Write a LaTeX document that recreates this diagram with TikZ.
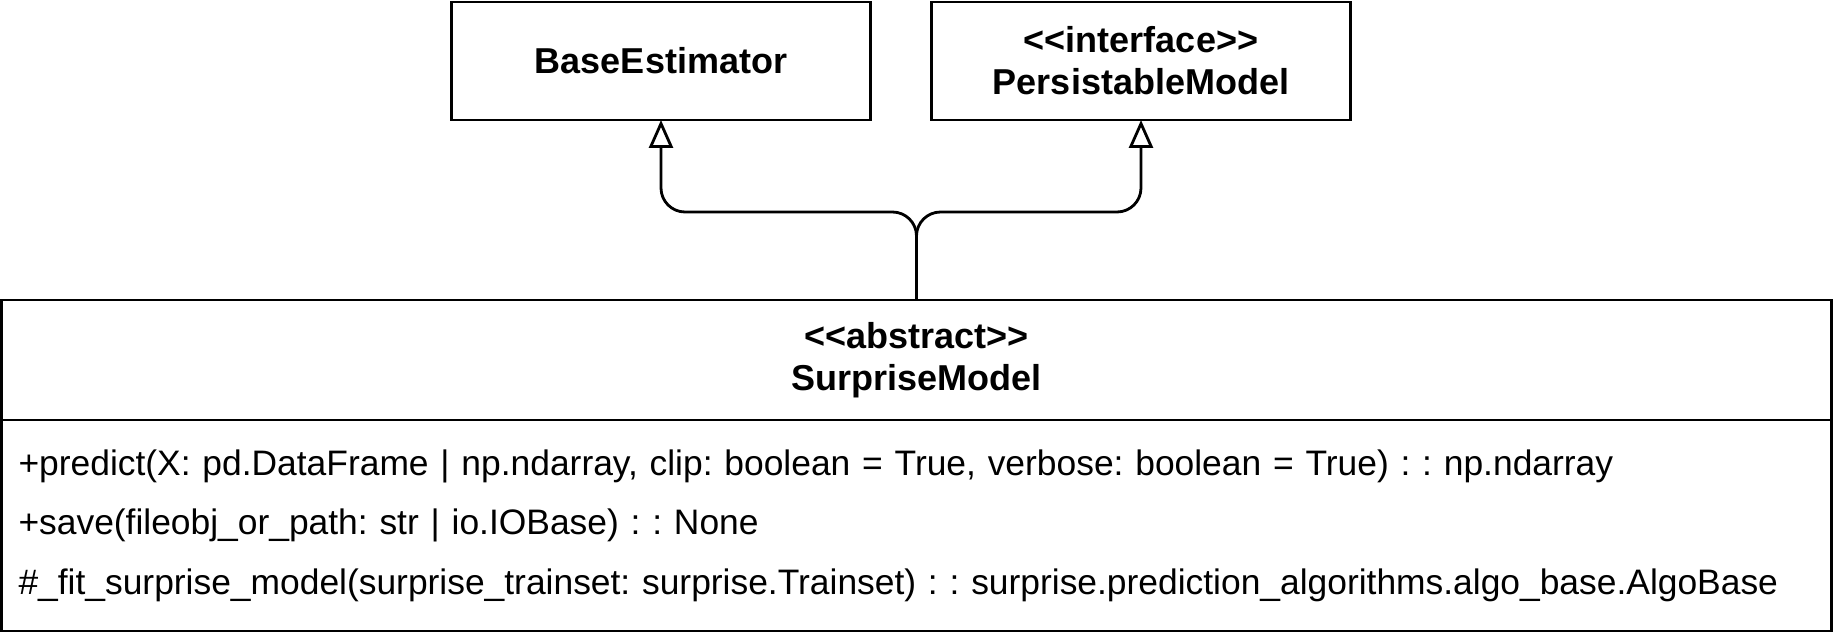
\documentclass[tikz,border=0pt]{standalone}
\usepackage{fontspec}
\setmainfont{Liberation Sans}
\usepackage{tikz}
\usetikzlibrary{arrows.meta, positioning}
\frenchspacing

\begin{document}
\begin{tikzpicture}[
        x=0.5pt, y=-0.5pt,
        classbox/.style={draw, line width=1.4pt, fill=white,
                         minimum width=209.5pt, minimum height=59pt,
                         align=center, outer sep=0pt,
                         font=\fontsize{18}{21}\selectfont\bfseries},
        methodbox/.style={draw, line width=1.4pt, fill=white,
                          minimum height=105.5pt, outer sep=0pt,
                          inner xsep=8.5pt, text width=898pt, align=left,
                          font=\fontsize{17.7}{29.75}\selectfont},
        inherit/.style={-{Triangle[open, length=14pt, width=12pt]},
                        line width=1.4pt, rounded corners=12pt}
      ]
        \useasboundingbox (0,0) rectangle (1833,642);
        % parents
        \node[classbox] (base) at (661,61) {BaseEstimator};
        \node[classbox] (persist) at (1141,61)
          {<\kern0pt<interface>\kern0pt>\\PersistableModel};
        % abstract model
        \node[classbox, minimum width=915pt, minimum height=60pt]
          (surprise) at (916.5,360) {<\kern0pt<abstract>\kern0pt>\\SurpriseModel};
        \node[methodbox, below=0pt of surprise] (methods)
          {+predict(X: pd.DataFrame | np.ndarray, clip: boolean = True, verbose: boolean = True) : : np.ndarray\\
           +save(fileobj\_or\_path: str | io.IOBase) : : None\\
           \#\_fit\_surprise\_model(surprise\_trainset: surprise.Trainset) : : surprise.prediction\_algorithms.algo\_base.AlgoBase};
        % generalisation
        \coordinate (fork) at (surprise.north |- 0,212);
        \draw[inherit] (surprise.north) -- (fork) -| (base.south);
        \draw[inherit] (surprise.north) -- (fork) -| (persist.south);
      \end{tikzpicture}
\end{document}
